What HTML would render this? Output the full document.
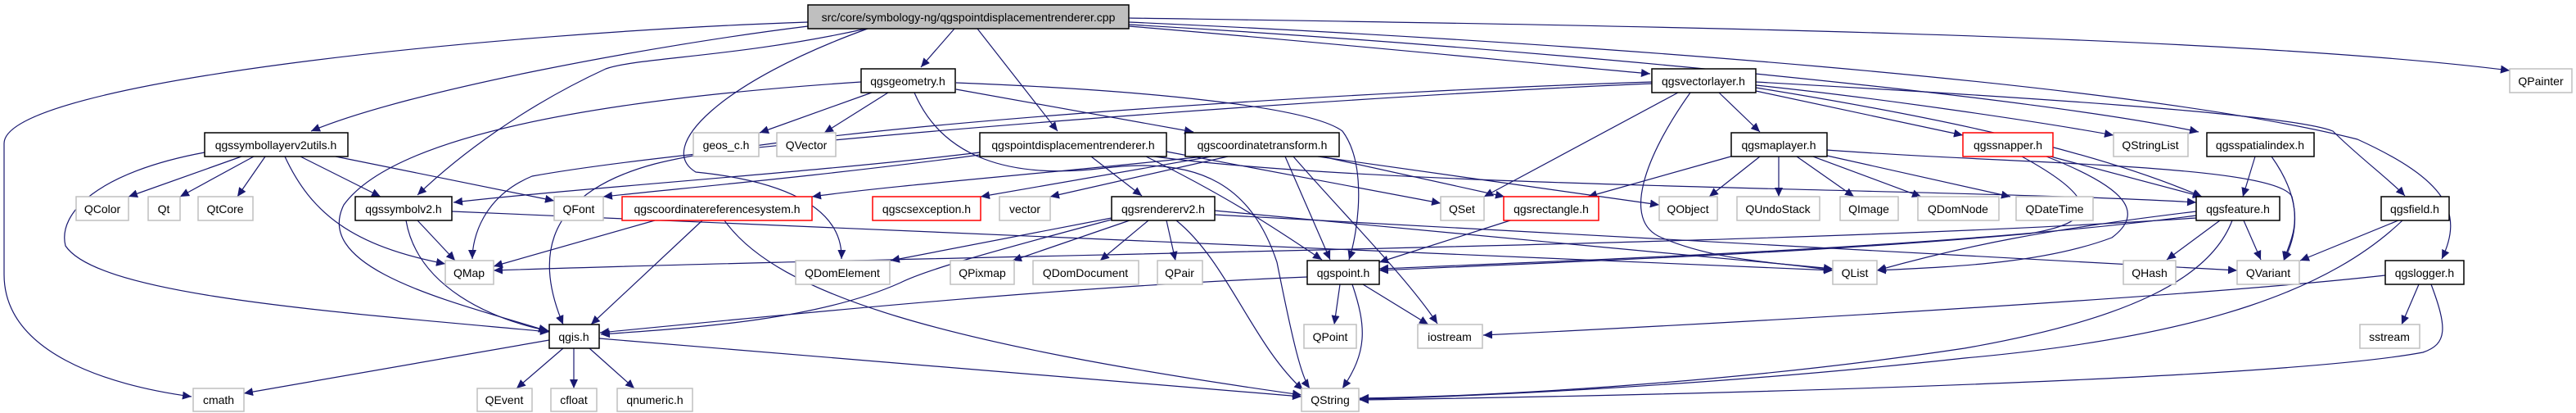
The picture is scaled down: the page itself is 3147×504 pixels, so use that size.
<!DOCTYPE html>
<html><head><meta charset="utf-8"><style>
html,body{margin:0;padding:0;background:#fff;}
svg{display:block;}
text{font-family:"Liberation Sans",sans-serif;font-size:14px;fill:#000;}
</style></head><body>
<svg width="3147" height="504" viewBox="0 0 3147 504" xmlns="http://www.w3.org/2000/svg">
<defs>
<marker id="a" markerUnits="userSpaceOnUse" markerWidth="12" markerHeight="10" refX="11" refY="5" orient="auto">
<path d="M0,0 L11,5 L0,10 Z" fill="#191970"/>
</marker>
</defs>
<g fill="none" stroke="#191970" stroke-width="1.2" marker-end="url(#a)">
<!-- root edges -->
<path d="M987,27 C600,40 5,100 5,175 L5,335 C5,430 130,470 234,484"/>
<path d="M987,32 C800,55 500,110 380,160"/>
<path d="M1058,35 C900,70 780,70 740,84 C640,130 560,190 510,238"/>
<path d="M1060,35 C880,100 800,180 850,210 C950,220 1030,250 1028,316"/>
<path d="M1166,35 L1125,82"/>
<path d="M1194,35 L1292,160"/>
<path d="M1379,32 C1600,50 1850,75 2016,90"/>
<path d="M1379,22 C1900,30 2700,40 3066,86"/>
<path d="M1379,27 C1900,50 2600,100 2880,170 C2990,220 3010,260 2983,316"/>
<path d="M1379,30 C1900,60 2500,120 2686,161"/>
<!-- qgsgeometry -->
<path d="M1052,100 C900,110 500,140 420,250 C380,330 560,370 669,404"/>
<path d="M1065,113 L928,162"/>
<path d="M1085,113 L1007,162"/>
<path d="M1117,113 C1150,190 1230,220 1350,205 C1470,190 1530,230 1560,320 C1580,420 1590,460 1600,474"/>
<path d="M1168,109 L1458,161"/>
<path d="M1168,101 C1400,110 1600,130 1640,160 C1670,200 1660,280 1648,317"/>
<!-- qgspointdisplacementrenderer -->
<path d="M1333,191 L1395,239"/>
<path d="M1197,186 C1000,210 700,230 554,247"/>
<path d="M1197,189 C1000,215 850,228 737,240"/>
<path d="M1425,185 L1760,248"/>
<path d="M1410,191 C1700,230 2400,230 2683,247"/>
<path d="M1400,191 C1500,240 1560,280 1615,317"/>
<!-- qgscoordinatetransform -->
<path d="M1470,191 C1300,210 1100,225 992,240"/>
<path d="M1480,191 L1198,240"/>
<path d="M1500,191 L1283,240"/>
<path d="M1570,191 L1625,317"/>
<path d="M1580,191 C1640,260 1720,340 1756,395"/>
<path d="M1610,191 L2027,250"/>
<path d="M1615,191 L1838,240"/>
<!-- qgsrendererv2 -->
<path d="M1358,266 L1088,318"/>
<path d="M1380,269 L1237,318"/>
<path d="M1403,269 L1344,318"/>
<path d="M1425,269 L1436,318"/>
<path d="M1437,269 C1500,320 1530,420 1592,476"/>
<path d="M1358,268 C1200,310 1130,330 1100,345 C1000,390 850,400 734,408"/>
<path d="M1484,257 L2239,328"/>
<path d="M1484,262 L2733,330"/>
<!-- qgsvectorlayer -->
<path d="M2100,113 L2150,161"/>
<path d="M2050,113 L1813,240"/>
<path d="M2065,113 C2010,190 1980,270 2030,290 C2100,320 2180,320 2239,330"/>
<path d="M2145,111 L2398,165"/>
<path d="M2145,104 C2300,120 2500,150 2582,165"/>
<path d="M2145,107 C2350,140 2550,180 2690,240"/>
<path d="M2145,100 C2500,120 2800,140 2850,160 C2880,190 2920,220 2938,239"/>
<path d="M2018,100 C1700,110 1000,150 800,200 C650,240 660,330 688,396"/>
<path d="M2018,102 C1700,115 900,170 650,215 C590,240 577,290 577,316"/>
<!-- qgsmaplayer -->
<path d="M2150,191 L2088,240"/>
<path d="M2173,191 L2173,240"/>
<path d="M2195,191 L2265,240"/>
<path d="M2215,191 L2347,240"/>
<path d="M2232,190 L2456,240"/>
<path d="M2232,183 C2450,200 2780,200 2800,240 C2810,280 2795,300 2790,318"/>
<path d="M2118,190 L1940,240"/>
<!-- qgssnapper -->
<path d="M2505,191 L2690,240"/>
<path d="M2500,191 C2600,230 2620,260 2580,290 C2500,320 2400,325 2293,330"/>
<path d="M2470,191 C2560,240 2570,270 2480,285 C2200,310 1900,320 1685,330"/>
<!-- qgsspatialindex -->
<path d="M2755,191 L2740,240"/>
<path d="M2775,191 C2810,240 2810,280 2790,318"/>
<!-- qgsfeature -->
<path d="M2712,269 L2647,317"/>
<path d="M2741,269 L2762,317"/>
<path d="M2727,269 C2700,340 2600,390 2400,425 C2100,470 1800,484 1661,486"/>
<path d="M2683,258 C2500,280 2400,300 2293,330"/>
<path d="M2683,263 C2400,300 2000,315 1685,328"/>
<path d="M2683,266 C2200,300 1200,310 603,330"/>
<!-- qgsfield -->
<path d="M2930,269 L2810,318"/>
<path d="M2935,269 C2850,350 2700,410 2400,437 C2100,470 1800,484 1661,487"/>
<!-- qgslogger -->
<path d="M2955,347 L2934,396"/>
<path d="M2914,336 C2700,360 2200,390 1812,409"/>
<path d="M2970,347 C2990,400 2990,420 2960,430 C2800,460 2200,480 1661,488"/>
<!-- qgspoint -->
<path d="M1637,347 L1630,396"/>
<path d="M1665,347 L1745,396"/>
<path d="M1652,347 C1670,400 1670,430 1640,474"/>
<path d="M1597,338 C1300,350 1000,380 733,406"/>
<!-- qgsrectangle -->
<path d="M1845,269 L1685,320"/>
<!-- crs -->
<path d="M858,269 L722,396"/>
<path d="M800,269 L603,325"/>
<path d="M885,269 C950,360 1150,420 1590,482"/>
<!-- qgssymbolv2 -->
<path d="M510,269 L556,318"/>
<path d="M496,269 C510,350 600,390 671,404"/>
<path d="M552,258 L2239,330"/>
<!-- qgssymbollayerv2utils -->
<path d="M295,191 L157,240"/>
<path d="M310,191 L220,240"/>
<path d="M324,191 L290,240"/>
<path d="M367,191 L465,240"/>
<path d="M410,191 L677,245"/>
<path d="M348,191 C380,260 430,300 544,322"/>
<path d="M250,186 C120,210 70,260 80,300 C120,360 400,380 671,405"/>
<!-- qgis -->
<path d="M688,425 L631,474"/>
<path d="M701,425 L701,474"/>
<path d="M720,425 L775,474"/>
<path d="M671,415 L298,480"/>
<path d="M732,413 L1590,484"/>
</g>
<g stroke-width="1.5" fill="#fff">
<rect x="987" y="6" width="392" height="29" fill="#bfbfbf" stroke="#000"/>
<rect x="1052" y="84" width="115" height="29" stroke="#000"/>
<rect x="2018" y="84" width="127" height="29" stroke="#000"/>
<rect x="3066" y="84" width="76" height="29" stroke="#bfbfbf"/>
<rect x="250" y="162" width="175" height="29" stroke="#000"/>
<rect x="847" y="162" width="80" height="29" stroke="#bfbfbf"/>
<rect x="949" y="162" width="72" height="29" stroke="#bfbfbf"/>
<rect x="1197" y="162" width="228" height="29" stroke="#000"/>
<rect x="1448" y="162" width="188" height="29" stroke="#000"/>
<rect x="2115" y="162" width="117" height="29" stroke="#000"/>
<rect x="2398" y="162" width="110" height="29" stroke="#ff0000"/>
<rect x="2582" y="162" width="91" height="29" stroke="#bfbfbf"/>
<rect x="2696" y="162" width="131" height="29" stroke="#000"/>
<rect x="93" y="240" width="64" height="29" stroke="#bfbfbf"/>
<rect x="181" y="240" width="39" height="29" stroke="#bfbfbf"/>
<rect x="242" y="240" width="67" height="29" stroke="#bfbfbf"/>
<rect x="434" y="240" width="118" height="29" stroke="#000"/>
<rect x="677" y="240" width="60" height="29" stroke="#bfbfbf"/>
<rect x="760" y="240" width="232" height="29" stroke="#ff0000"/>
<rect x="1066" y="240" width="132" height="29" stroke="#ff0000"/>
<rect x="1221" y="240" width="62" height="29" stroke="#bfbfbf"/>
<rect x="1358" y="240" width="126" height="29" stroke="#000"/>
<rect x="1760" y="240" width="53" height="29" stroke="#bfbfbf"/>
<rect x="1837" y="240" width="116" height="29" stroke="#ff0000"/>
<rect x="2027" y="240" width="71" height="29" stroke="#bfbfbf"/>
<rect x="2122" y="240" width="101" height="29" stroke="#bfbfbf"/>
<rect x="2248" y="240" width="71" height="29" stroke="#bfbfbf"/>
<rect x="2343" y="240" width="99" height="29" stroke="#bfbfbf"/>
<rect x="2463" y="240" width="94" height="29" stroke="#bfbfbf"/>
<rect x="2683" y="240" width="102" height="29" stroke="#000"/>
<rect x="2909" y="240" width="83" height="29" stroke="#000"/>
<rect x="544" y="318" width="59" height="29" stroke="#bfbfbf"/>
<rect x="972" y="318" width="115" height="29" stroke="#bfbfbf"/>
<rect x="1161" y="318" width="78" height="29" stroke="#bfbfbf"/>
<rect x="1262" y="318" width="129" height="29" stroke="#bfbfbf"/>
<rect x="1414" y="318" width="55" height="29" stroke="#bfbfbf"/>
<rect x="1597" y="318" width="88" height="29" stroke="#000"/>
<rect x="2239" y="318" width="54" height="29" stroke="#bfbfbf"/>
<rect x="2594" y="318" width="64" height="29" stroke="#bfbfbf"/>
<rect x="2733" y="318" width="76" height="29" stroke="#bfbfbf"/>
<rect x="2914" y="318" width="96" height="29" stroke="#000"/>
<rect x="671" y="396" width="61" height="29" stroke="#000"/>
<rect x="1593" y="396" width="64" height="29" stroke="#bfbfbf"/>
<rect x="1732" y="396" width="79" height="29" stroke="#bfbfbf"/>
<rect x="2883" y="396" width="73" height="29" stroke="#bfbfbf"/>
<rect x="236" y="474" width="62" height="28" stroke="#bfbfbf"/>
<rect x="583" y="474" width="67" height="28" stroke="#bfbfbf"/>
<rect x="673" y="474" width="56" height="28" stroke="#bfbfbf"/>
<rect x="754" y="474" width="92" height="28" stroke="#bfbfbf"/>
<rect x="1590" y="474" width="70" height="28" stroke="#bfbfbf"/>
</g>
<g text-anchor="middle">
<text x="1183" y="26">src/core/symbology-ng/qgspointdisplacementrenderer.cpp</text>
<text x="1109" y="104">qgsgeometry.h</text>
<text x="2081" y="104">qgsvectorlayer.h</text>
<text x="3104" y="104">QPainter</text>
<text x="337" y="182">qgssymbollayerv2utils.h</text>
<text x="887" y="182">geos_c.h</text>
<text x="985" y="182">QVector</text>
<text x="1311" y="182">qgspointdisplacementrenderer.h</text>
<text x="1542" y="182">qgscoordinatetransform.h</text>
<text x="2173" y="182">qgsmaplayer.h</text>
<text x="2453" y="182">qgssnapper.h</text>
<text x="2627" y="182">QStringList</text>
<text x="2761" y="182">qgsspatialindex.h</text>
<text x="125" y="260">QColor</text>
<text x="200" y="260">Qt</text>
<text x="275" y="260">QtCore</text>
<text x="493" y="260">qgssymbolv2.h</text>
<text x="707" y="260">QFont</text>
<text x="876" y="260">qgscoordinatereferencesystem.h</text>
<text x="1132" y="260">qgscsexception.h</text>
<text x="1252" y="260">vector</text>
<text x="1421" y="260">qgsrendererv2.h</text>
<text x="1786" y="260">QSet</text>
<text x="1895" y="260">qgsrectangle.h</text>
<text x="2062" y="260">QObject</text>
<text x="2172" y="260">QUndoStack</text>
<text x="2283" y="260">QImage</text>
<text x="2392" y="260">QDomNode</text>
<text x="2510" y="260">QDateTime</text>
<text x="2734" y="260">qgsfeature.h</text>
<text x="2950" y="260">qgsfield.h</text>
<text x="573" y="338">QMap</text>
<text x="1029" y="338">QDomElement</text>
<text x="1200" y="338">QPixmap</text>
<text x="1326" y="338">QDomDocument</text>
<text x="1441" y="338">QPair</text>
<text x="1641" y="338">qgspoint.h</text>
<text x="2266" y="338">QList</text>
<text x="2626" y="338">QHash</text>
<text x="2771" y="338">QVariant</text>
<text x="2962" y="338">qgslogger.h</text>
<text x="701" y="416">qgis.h</text>
<text x="1625" y="416">QPoint</text>
<text x="1771" y="416">iostream</text>
<text x="2919" y="416">sstream</text>
<text x="267" y="493">cmath</text>
<text x="616" y="493">QEvent</text>
<text x="701" y="493">cfloat</text>
<text x="800" y="493">qnumeric.h</text>
<text x="1625" y="493">QString</text>
</g>
</svg>
</body></html>
